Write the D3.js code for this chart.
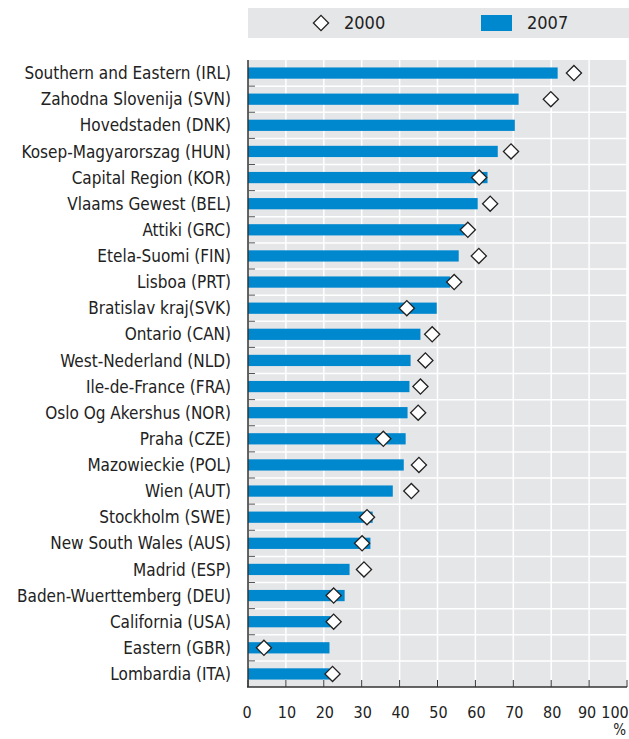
<!DOCTYPE html>
<html lang="en">
<head>
    <meta charset="UTF-8">
    <title>Regions 2000 vs 2007</title>
    <script src="https://d3js.org/d3.v7.min.js"></script>
    <style>
        body { margin: 0; background: #fff; }
        text { font-family: "DejaVu Sans Condensed", "DejaVu Sans", sans-serif; font-stretch: condensed; fill: #222; }
    </style>
</head>
<body>
    <script>
        //Chart data
        var regions = [
            "Southern and Eastern (IRL)", "Zahodna Slovenija (SVN)", "Hovedstaden (DNK)",
            "Kosep-Magyarorszag (HUN)", "Capital Region (KOR)", "Vlaams Gewest (BEL)",
            "Attiki (GRC)", "Etela-Suomi (FIN)", "Lisboa (PRT)", "Bratislav kraj(SVK)",
            "Ontario (CAN)", "West-Nederland (NLD)", "Ile-de-France (FRA)",
            "Oslo Og Akershus (NOR)", "Praha (CZE)", "Mazowieckie (POL)", "Wien (AUT)",
            "Stockholm (SWE)", "New South Wales (AUS)", "Madrid (ESP)",
            "Baden-Wuerttemberg (DEU)", "California (USA)", "Eastern (GBR)", "Lombardia (ITA)"
        ];
        var values2007 = [81.7, 71.4, 70.4, 65.9, 63.2, 60.6, 57.2, 55.6, 53.3, 49.8, 45.5, 42.9,
            42.6, 42.1, 41.6, 41.1, 38.2, 32.9, 32.3, 26.8, 25.5, 21.8, 21.5, 21.5];
        var values2000 = [86.0, 79.9, null, 69.4, 61.0, 63.9, 58.0, 60.9, 54.4, 41.9, 48.6, 46.8,
            45.5, 44.9, 35.7, 45.1, 43.1, 31.4, 30.1, 30.6, 22.6, 22.6, 4.2, 22.3];
        var xTicks = [0, 10, 20, 30, 40, 50, 60, 70, 80, 90, 100];
        var seriesNames = ["2000", "2007"];

        //Dimensions
        var w = 629;
        var h = 739;
        var mLeft = 248, mRight = 627, mTop = 60, mBottom = 687;
        var barColor = "#0088cf";
        var bgColor = "#e5e6e8";

        var svg = d3.select("body")
            .append("svg")
            .attr("width", w)
            .attr("height", h);

        var xScale = d3.scaleLinear()
            .domain([0, 100])
            .range([mLeft, mRight]);

        var yScale = d3.scaleBand()
            .domain(regions)
            .range([mTop, mBottom]);

        var bw = yScale.bandwidth();
        var barH = bw * 0.43;

        //Plot background
        svg.append("rect")
            .attr("x", mLeft)
            .attr("y", mTop)
            .attr("width", mRight - mLeft)
            .attr("height", mBottom - mTop)
            .attr("fill", bgColor);

        //Grid lines
        svg.selectAll("line.vgrid")
            .data(xTicks.slice(1))
            .enter()
            .append("line")
            .attr("class", "vgrid")
            .attr("x1", function(d) { return xScale(d); })
            .attr("x2", function(d) { return xScale(d); })
            .attr("y1", mTop)
            .attr("y2", mBottom)
            .attr("stroke", "#fff")
            .attr("stroke-width", 1.5);

        svg.selectAll("line.hgrid")
            .data(regions.slice(1))
            .enter()
            .append("line")
            .attr("class", "hgrid")
            .attr("x1", mLeft)
            .attr("x2", mRight)
            .attr("y1", function(d) { return yScale(d); })
            .attr("y2", function(d) { return yScale(d); })
            .attr("stroke", "#fff")
            .attr("stroke-width", 1.5);

        //Bars (2007)
        svg.selectAll("rect.bar")
            .data(regions)
            .enter()
            .append("rect")
            .attr("class", "bar")
            .attr("x", xScale(0))
            .attr("y", function(d) { return yScale(d) + (bw - barH) / 2; })
            .attr("width", function(d, i) { return xScale(values2007[i]) - xScale(0); })
            .attr("height", barH)
            .attr("fill", barColor);

        //Diamonds (2000)
        var diamond = d3.symbol().type(d3.symbolSquare).size(115);
        svg.selectAll("path.pt")
            .data(regions.filter(function(d, i) { return values2000[i] != null; }))
            .enter()
            .append("path")
            .attr("class", "pt")
            .attr("d", diamond)
            .attr("transform", function(d) {
                var i = regions.indexOf(d);
                return "translate(" + xScale(values2000[i]) + "," + (yScale(d) + bw / 2) + ") rotate(45)";
            })
            .attr("fill", "#fff")
            .attr("stroke", "#222")
            .attr("stroke-width", 1.3);

        //Left axis
        svg.append("line")
            .attr("x1", mLeft).attr("x2", mLeft)
            .attr("y1", mTop).attr("y2", mBottom)
            .attr("stroke", "#333").attr("stroke-width", 1.5);
        svg.selectAll("line.ytick")
            .data(regions.slice(1))
            .enter()
            .append("line")
            .attr("class", "ytick")
            .attr("x1", mLeft).attr("x2", mLeft + 7)
            .attr("y1", function(d) { return yScale(d); })
            .attr("y2", function(d) { return yScale(d); })
            .attr("stroke", "#555").attr("stroke-width", 1);

        svg.selectAll("text.ylab")
            .data(regions)
            .enter()
            .append("text")
            .attr("class", "ylab")
            .attr("x", mLeft - 17)
            .attr("y", function(d) { return yScale(d) + bw / 2; })
            .attr("dy", "0.36em")
            .attr("text-anchor", "end")
            .style("font-size", "17px")
            .text(function(d) { return d; });

        //Bottom axis
        svg.append("line")
            .attr("x1", mLeft - 1).attr("x2", mRight)
            .attr("y1", mBottom).attr("y2", mBottom)
            .attr("stroke", "#333").attr("stroke-width", 1.5);
        svg.selectAll("line.xtick")
            .data(xTicks)
            .enter()
            .append("line")
            .attr("class", "xtick")
            .attr("x1", function(d) { return xScale(d); })
            .attr("x2", function(d) { return xScale(d); })
            .attr("y1", mBottom).attr("y2", mBottom - 7)
            .attr("stroke", "#333").attr("stroke-width", 1);
        svg.selectAll("text.xlab")
            .data(xTicks)
            .enter()
            .append("text")
            .attr("class", "xlab")
            .attr("x", function(d) {
                if (d === 100) return xScale(d) - 12;
                if (d === 90) return xScale(d) - 2;
                if (d === 0) return xScale(d) - 1;
                return xScale(d) + 1;
            })
            .attr("y", 718)
            .attr("text-anchor", "middle")
            .style("font-size", "16px")
            .text(function(d) { return d; });
        svg.append("text")
            .attr("x", mRight - 1)
            .attr("y", 735)
            .attr("text-anchor", "end")
            .style("font-size", "15px")
            .text("%");

        //Legend
        svg.append("rect")
            .attr("x", mLeft)
            .attr("y", 8)
            .attr("width", w - mLeft)
            .attr("height", 30)
            .attr("fill", bgColor);
        svg.append("path")
            .attr("d", diamond)
            .attr("transform", "translate(321,23) rotate(45)")
            .attr("fill", "#fff")
            .attr("stroke", "#222")
            .attr("stroke-width", 1.3);
        svg.append("text")
            .attr("x", 344).attr("y", 23).attr("dy", "0.36em")
            .style("font-size", "18px")
            .text(seriesNames[0]);
        svg.append("rect")
            .attr("x", 481).attr("y", 15)
            .attr("width", 31).attr("height", 16)
            .attr("fill", barColor);
        svg.append("text")
            .attr("x", 527).attr("y", 23).attr("dy", "0.36em")
            .style("font-size", "18px")
            .text(seriesNames[1]);
    </script>
</body>
</html>
